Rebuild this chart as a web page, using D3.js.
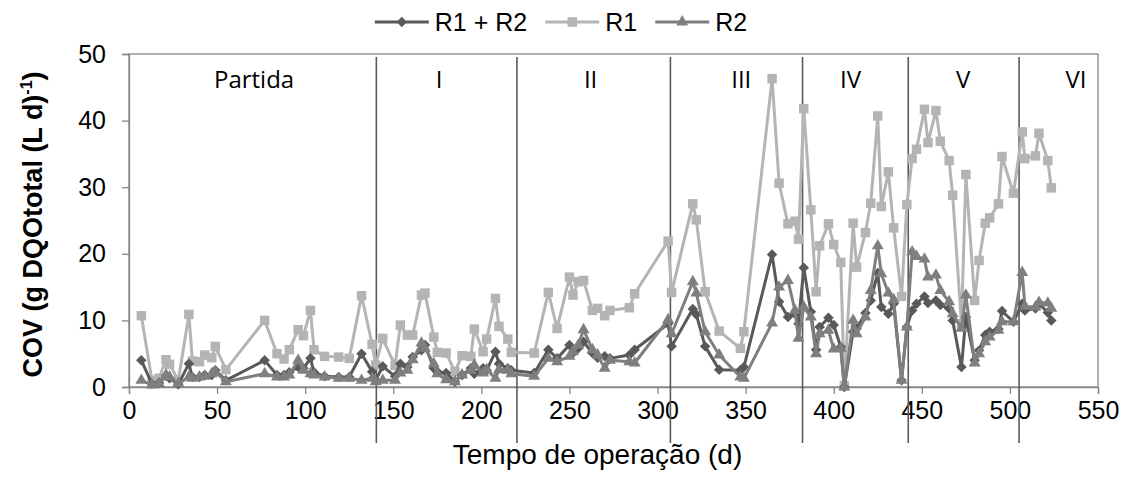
<!DOCTYPE html>
<html>
<head>
<meta charset="utf-8">
<script src="https://cdn.jsdelivr.net/npm/d3@7"></script>
<style>
  body { margin: 0; background: #fff; }
  svg { display: block; font-family: "Liberation Sans", Arial, sans-serif; }
</style>
</head>
<body>
<svg width="1122" height="488"></svg>
<script>
// operation day of each sample
const days = [
  7, 13, 17, 21, 23, 28, 34, 36, 40, 43, 47, 49, 55, 77, 84, 88, 91, 96, 99, 103, 105, 111, 119, 125, 132, 138,
  140, 144, 151, 154, 158, 161, 166, 168, 173, 175, 180, 185, 189, 194, 196, 201, 203, 208, 210, 215, 217,
  230, 238, 243, 250, 252, 255, 258, 263, 266, 270, 273, 284, 287, 306, 308, 320, 322, 327, 335, 347, 349,
  365, 369, 374, 378, 380, 383, 387, 390, 392, 397, 400, 404, 406, 411, 413, 418, 421, 425, 427, 431, 434,
  438.5, 441.5, 444.5, 447, 451.5, 453.5, 458, 460.5, 465.5, 467.5, 472.5, 475, 480, 482.5, 486, 488.5,
  493.5, 495.5, 502, 507, 508.5, 514.5, 516.5, 521.5, 523.5
];
const covR1R2 = [
  4.0, 0.5, 0.6, 1.7, 1.3, 0.4, 3.5, 1.5, 1.5, 1.8, 1.8, 2.5, 1.0, 4.0, 1.8, 1.8, 2.2, 3.0, 2.8, 4.3, 2.2, 1.6, 1.5, 1.5, 5.0, 2.3,
  1.0, 3.1, 1.6, 3.5, 3.0, 4.5, 5.5, 6.3, 2.8, 2.3, 2.1, 0.8, 1.8, 2.8, 2.0, 2.8, 2.5, 5.3, 3.5, 2.8, 2.5,
  2.1, 5.6, 4.3, 6.3, 5.1, 5.8, 6.8, 5.1, 4.4, 4.6, 4.3, 4.8, 5.6, 9.5, 6.1, 11.7, 10.9, 6.1, 2.6, 2.5, 3.0,
  19.9, 12.8, 10.5, 11.0, 9.5, 17.9, 11.3, 5.6, 9.0, 10.4, 9.3, 6.0, 0.0, 8.3, 8.8, 11.1, 13.0, 17.1, 12.0, 11.0, 12.5,
  1.0, 9.0, 11.5, 12.5, 13.6, 12.6, 13.0, 12.3, 11.8, 10.0, 3.0, 10.5, 4.0, 5.5, 7.8, 8.3,
  8.7, 11.4, 9.8, 12.5, 11.5, 11.8, 12.5, 11.2, 10.0
];
const covR1 = [
  10.7, 1.0, 1.3, 4.1, 3.4, 1.0, 10.9, 3.9, 3.8, 4.8, 4.4, 6.1, 2.6, 10.0, 5.0, 4.2, 5.6, 8.6, 7.7, 11.5, 5.6, 4.6, 4.5, 4.3, 13.7, 6.4,
  3.3, 7.3, 3.2, 9.3, 7.8, 7.8, 13.8, 14.1, 7.5, 5.2, 5.1, 2.3, 4.7, 4.6, 8.7, 5.3, 7.2, 13.3, 9.1, 7.2, 5.2,
  5.1, 14.2, 8.8, 16.5, 13.8, 15.8, 16.0, 11.5, 11.8, 10.7, 11.5, 11.9, 14.0, 21.9, 14.2, 27.5, 25.1, 14.3, 8.4, 5.8, 8.3,
  46.3, 30.6, 24.5, 24.9, 22.2, 41.8, 26.6, 14.3, 21.2, 24.5, 21.4, 18.7, 0.2, 24.6, 18.0, 23.2, 27.6, 40.7, 27.1, 32.3, 23.9,
  13.6, 27.4, 34.3, 35.7, 41.7, 36.7, 41.5, 36.9, 34.0, 28.8, 9.5, 31.9, 13.0, 19.0, 24.6, 25.4,
  27.5, 34.6, 29.1, 38.3, 34.3, 34.7, 38.1, 34.0, 29.9
];
const covR2 = [
  1.0, 0.3, 0.5, 1.8, 1.5, 0.5, 1.5, 1.3, 1.5, 1.6, 2.0, 2.3, 0.8, 2.0, 1.5, 1.5, 1.8, 4.0, 2.5, 2.0, 1.8, 1.5, 1.3, 1.3, 1.0, 1.3,
  0.8, 1.0, 1.0, 2.1, 2.5, 4.1, 6.6, 5.8, 3.5, 2.0, 1.1, 0.8, 1.8, 2.5, 3.3, 2.1, 2.6, 1.3, 2.6, 2.5, 2.0,
  1.6, 4.3, 3.8, 4.6, 5.3, 6.3, 8.6, 5.6, 4.8, 2.8, 4.0, 3.8, 3.6, 10.1, 8.0, 15.8, 14.1, 8.3, 4.8, 1.5, 1.3,
  9.6, 15.0, 16.0, 11.5, 7.3, 12.0, 10.5, 5.0, 8.0, 8.5, 5.7, 5.8, 0.0, 10.0, 8.0, 10.5, 14.5, 21.2, 17.0, 14.1, 13.1,
  1.0, 9.0, 20.3, 19.6, 19.2, 16.5, 16.8, 14.5, 12.8, 11.0, 8.8, 13.8, 3.6, 5.0, 6.8, 7.5,
  8.5, 9.8, 9.8, 17.2, 12.1, 12.0, 12.7, 12.6, 11.8
];
const xTicks = [0, 50, 100, 150, 200, 250, 300, 350, 400, 450, 500, 550];
const yTicks = [0, 10, 20, 30, 40, 50];
const phaseBounds = [140.4, 220.2, 307.3, 382.3, 442.3, 505.2];
const phaseNames = ["Partida", "I", "II", "III", "IV", "V", "VI"];
const phaseLabelDays = [71, 176, 262, 347.5, 409.5, 473.5, 537.5];

const W = 1122, H = 488;
const margin = { top: 54, right: 24, bottom: 101, left: 129 };
const AXIS_GRAY = "#868686";

// drawing order: R1 below, then R1 + R2, then R2 on top
const series = [
  { name: "R1", values: covR1, color: "#b4b4b4", symbol: d3.symbolSquare, size: 90 },
  { name: "R1 + R2", values: covR1R2, color: "#595959", symbol: d3.symbolDiamond2 || d3.symbolDiamond, size: 70 },
  { name: "R2", values: covR2, color: "#7f7f7f", symbol: d3.symbolTriangle, size: 62 }
];
const legendOrder = ["R1 + R2", "R1", "R2"];

const svg = d3.select("svg");
const x = d3.scaleLinear().domain([0, 550]).range([margin.left, W - margin.right]);
const y = d3.scaleLinear().domain([0, 50]).range([H - margin.bottom, margin.top]);

// plot frame
svg.append("rect")
  .attr("x", x(0)).attr("y", y(50))
  .attr("width", x(550) - x(0)).attr("height", y(0) - y(50))
  .attr("fill", "none").attr("stroke", AXIS_GRAY).attr("stroke-width", 1.3);

const xAxis = svg.append("g")
  .attr("transform", `translate(0,${y(0)})`)
  .call(d3.axisBottom(x).tickValues(xTicks).tickSize(7).tickPadding(7).tickFormat(d3.format("d")));
const yAxis = svg.append("g")
  .attr("transform", `translate(${x(0)},0)`)
  .call(d3.axisLeft(y).tickValues(yTicks).tickSize(7).tickPadding(16).tickFormat(d3.format("d")));

[xAxis, yAxis].forEach(g => {
  g.select(".domain").attr("stroke", AXIS_GRAY).attr("stroke-width", 1.3);
  g.selectAll(".tick line").attr("stroke", AXIS_GRAY).attr("stroke-width", 1.3);
  g.selectAll(".tick text")
    .attr("fill", "#000")
    .style("font-family", '"Liberation Sans", Arial, sans-serif')
    .style("font-size", "25px");
});

// phase separators
svg.append("g").selectAll("line")
  .data(phaseBounds)
  .join("line")
  .attr("x1", d => x(d)).attr("x2", d => x(d))
  .attr("y1", y(50) + 3).attr("y2", y(0) + 56)
  .attr("stroke", "#5a5a5a").attr("stroke-width", 1.6);

svg.append("g").selectAll("text")
  .data(phaseNames)
  .join("text")
  .attr("x", (d, i) => x(phaseLabelDays[i]))
  .attr("y", 88)
  .attr("text-anchor", "middle")
  .style("font-family", '"Open Sans", "DejaVu Sans", sans-serif')
  .style("font-size", "24px")
  .text(d => d);

// series
const line = d3.line()
  .x(d => x(d[0]))
  .y(d => y(d[1]));

series.forEach(s => {
  const pts = days.map((d, i) => [d, s.values[i]]);
  const g = svg.append("g");
  g.append("path")
    .datum(pts)
    .attr("d", line)
    .attr("fill", "none")
    .attr("stroke", s.color)
    .attr("stroke-width", 3)
    .attr("stroke-linejoin", "round");
  g.selectAll("path.mark")
    .data(pts)
    .join("path")
    .attr("class", "mark")
    .attr("transform", d => `translate(${x(d[0])},${y(d[1])})`)
    .attr("d", d3.symbol().type(s.symbol).size(s.size))
    .attr("fill", s.color);
});

// axis titles
svg.append("text")
  .attr("x", (x(0) + x(550)) / 2 - 16)
  .attr("y", 464)
  .attr("text-anchor", "middle")
  .style("font-size", "28px")
  .text("Tempo de operação (d)");

const yTitle = svg.append("text")
  .attr("transform", `translate(42,${(y(0) + y(50)) / 2 + 4}) rotate(-90)`)
  .attr("text-anchor", "middle")
  .style("font-size", "27px")
  .style("font-weight", "bold");
yTitle.append("tspan").text("COV (g DQOtotal (L d)");
yTitle.append("tspan").attr("dy", -10).style("font-size", "16px").text("-1");
yTitle.append("tspan").attr("dy", 10).text(")");

// legend, centred on the figure
const legend = svg.append("g").attr("transform", "translate(0,22)");
let cursor = 0;
legendOrder.forEach((name, k) => {
  const s = series.find(d => d.name === name);
  const item = legend.append("g").attr("transform", `translate(${cursor},0)`);
  item.append("line")
    .attr("x1", 0).attr("x2", 54)
    .attr("stroke", s.color).attr("stroke-width", 3);
  item.append("path")
    .attr("transform", "translate(27,0)")
    .attr("d", d3.symbol().type(s.symbol).size(s.size))
    .attr("fill", s.color);
  const t = item.append("text")
    .attr("x", 60).attr("dy", "0.35em")
    .style("font-size", "25px")
    .text(name);
  cursor += 60 + t.node().getComputedTextLength() + (k < legendOrder.length - 1 ? 18 : 0);
});
legend.attr("transform", `translate(${(W - cursor) / 2},22)`);
</script>
</body>
</html>
